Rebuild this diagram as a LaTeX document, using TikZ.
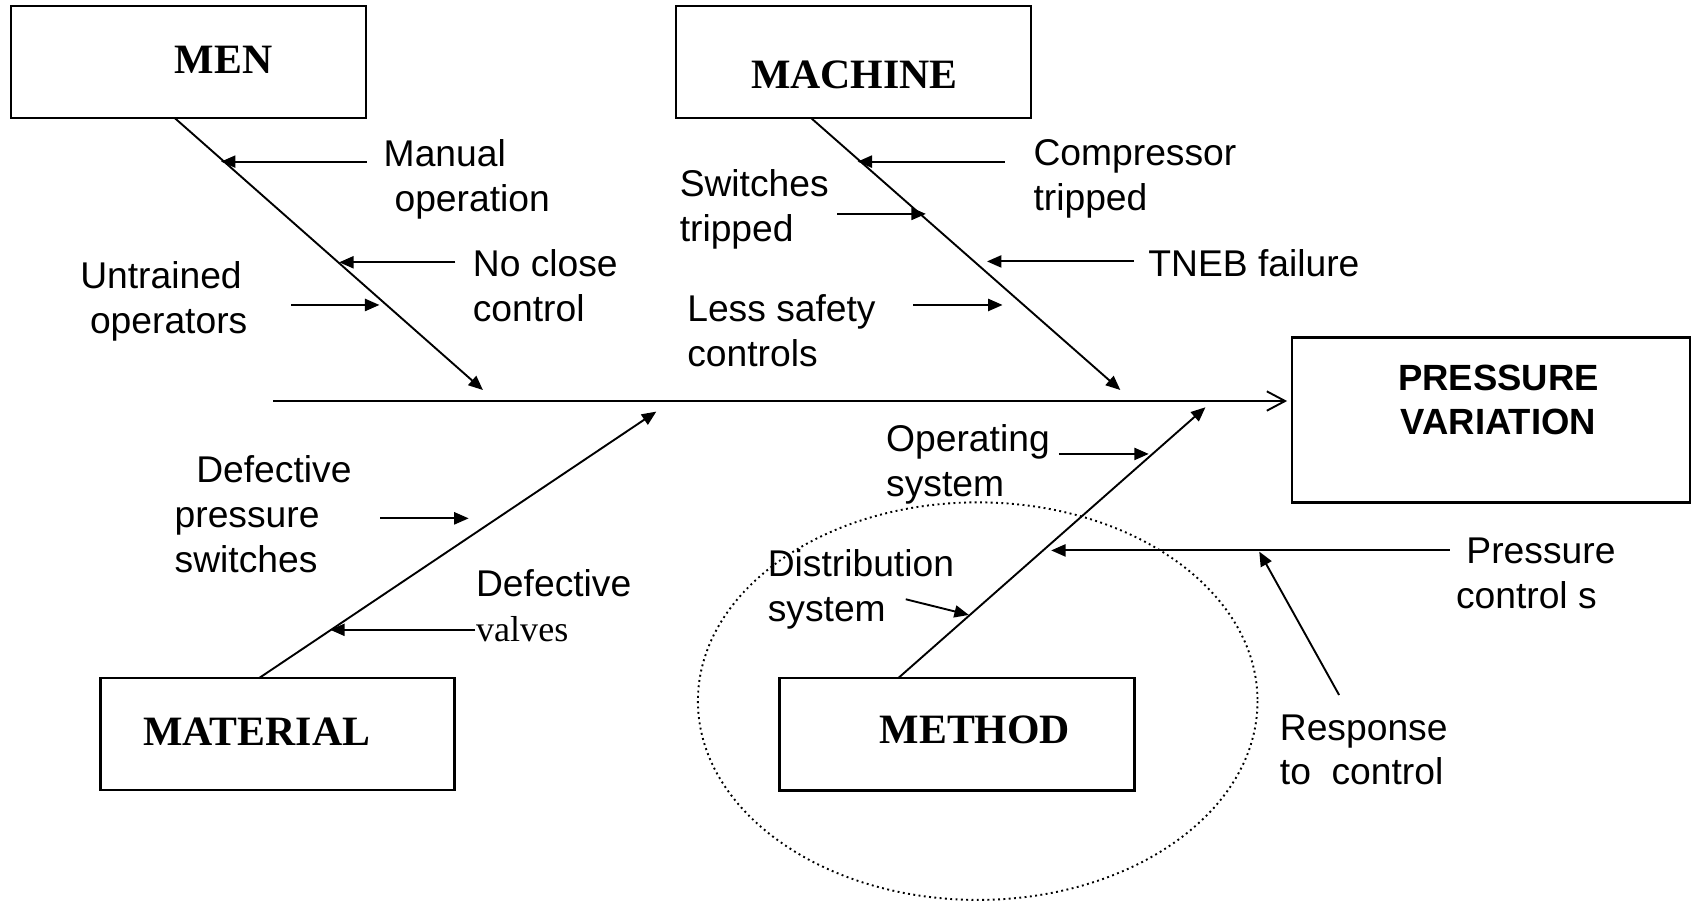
\documentclass[tikz,border=0pt]{standalone}
\usepackage{fontspec}
\newfontfamily\lblfont{Liberation Sans}
\newfontfamily\ttlfont{Liberation Serif}
\usepackage{tikz}
\usetikzlibrary{arrows.meta}
\tikzset{
    box/.style={draw,line width=0.6pt,inner sep=0pt},
    ttl/.style={font=\ttlfont\bfseries\fontsize{11}{13}\selectfont,inner sep=0pt,anchor=base west},
    lbl/.style={font=\lblfont\fontsize{9.8}{11.8}\selectfont,inner sep=0pt,align=left,anchor=base west},
    bone/.style={line width=0.5pt,-{Triangle[length=3.8pt,width=3.2pt]}},
    spine/.style={line width=0.5pt,-{Straight Barb[length=4.8pt,width=5.1pt]}},
}
\begin{document}
\begin{tikzpicture}[x=0.01cm,y=-0.01cm]
            \useasboundingbox (0,0) rectangle (1568,834);
            \node (men) at (174.6,57.5) [box,minimum width=3.284cm,minimum height=1.04cm] {};
            \node (machine) at (789.8,57.5) [box,minimum width=3.284cm,minimum height=1.04cm] {};
            \node (material) at (256.8,679.5) [box,minimum width=3.276cm,minimum height=1.034cm] {};
            \node (method) at (885.8,679.8) [box,minimum width=3.285cm,minimum height=1.04cm] {};
            \node (press) at (1380.2,388.8) [box,minimum width=3.683cm,minimum height=1.525cm] {};
            \node (menttl) at (161,67.9) [ttl] {MEN};
            \node (machttl) at (694.6,81.8) [ttl] {MACHINE};
            \node (matttl) at (132,689.6) [ttl] {MATERIAL};
            \node (methttl) at (813.6,688) [ttl] {METHOD};
            \node (pressttl) at (1387,402.6) [lbl,anchor=base,align=center,font=\lblfont\bfseries\fontsize{9.6}{11.7}\selectfont] {PRESSURE\\VARIATION};

            % spine and bones
            \coordinate (head0) at (253,371.2);
            \draw[spine,shorten >=1pt] (head0) -- (head0 -| press.west);
            \coordinate (menfoot) at (162,109.5);
            \coordinate (menhead) at (447,361);
            \coordinate (machfoot) at (751,109.5);
            \coordinate (machhead) at (1037,361);
            \coordinate (matfoot) at (239.6,627.8);
            \coordinate (mathead) at (607.5,381);
            \coordinate (methfoot) at (831.3,627.8);
            \coordinate (methhead) at (1115.8,377);
            \draw[bone] (menfoot) -- (menhead);
            \draw[bone] (machfoot) -- (machhead);
            \draw[bone] (matfoot) -- (mathead);
            \draw[bone] (methfoot) -- (methhead);

            % men
            \node (manual) at (354.5,195.9) [lbl] {Manual\\\hspace*{0.1cm}operation};
            \node (noclose) at (437,297.7) [lbl] {No close\\control};
            \node (untrained) at (73.6,308.5) [lbl] {Untrained\\\hspace*{0.09cm}operators};
            \coordinate (m1a) at (339.6,149.6); \coordinate (m1b) at (204.6,149.6);
            \coordinate (m2a) at (421.5,242.8); \coordinate (m2b) at (314,242.8);
            \coordinate (m3a) at (269.4,282.3); \coordinate (m3b) at (351.2,282.3);
            \draw[bone] (m1a) -- (m1b);
            \draw[bone] (m2a) -- (m2b);
            \draw[bone] (m3a) -- (m3b);

            % machine
            \node (compressor) at (956,194.4) [lbl] {Compressor\\tripped};
            \node (switches) at (628.5,223.7) [lbl] {Switches\\tripped};
            \node (tneb) at (1062.3,256.1) [lbl] {TNEB failure};
            \node (safety) at (635.5,339.4) [lbl] {Less safety\\controls};
            \coordinate (c1a) at (930,149.6); \coordinate (c1b) at (793.8,149.6);
            \coordinate (c2a) at (775,198); \coordinate (c2b) at (857,198);
            \coordinate (c3a) at (1049.7,242); \coordinate (c3b) at (913.6,242);
            \coordinate (c4a) at (845.4,282.3); \coordinate (c4b) at (928,282.3);
            \draw[bone] (c1a) -- (c1b);
            \draw[bone] (c2a) -- (c2b);
            \draw[bone] (c3a) -- (c3b);
            \draw[bone] (c4a) -- (c4b);

            % material
            \node (defswitch) at (161,530) [lbl] {\hspace*{0.2cm}Defective\\pressure\\switches};
            \node (defvalve) at (440,594) [lbl] {Defective\\{\ttlfont\fontsize{9.5}{11.8}\selectfont valves}};
            \coordinate (t1a) at (352,479.8); \coordinate (t1b) at (433.8,479.8);
            \coordinate (t2a) at (440,583) ; \coordinate (t2b) at (305.7,583);
            \draw[bone] (t1a) -- (t1b);
            \draw[bone] (t2a) -- (t2b);

            % method
            \draw[line width=0.5pt,dash pattern=on 0.5pt off 0.9pt] (905,649) ellipse (259 and 184);
            \node (operating) at (819.6,459.7) [lbl] {Operating\\system};
            \node (distrib) at (710,575.4) [lbl] {Distribution\\system};
            \node (pressctl) at (1347,563) [lbl] {\hspace*{0.097cm}Pressure\\control s};
            \node (response) at (1184,726.6) [lbl] {Response\\to\ \ control};
            \coordinate (d1a) at (980,420.2); \coordinate (d1b) at (1063.3,420.2);
            \coordinate (d2a) at (838.4,554.7); \coordinate (d2b) at (896.8,569.2);
            \coordinate (d3a) at (1342,509.5); \coordinate (d3b) at (973,509.5);
            \coordinate (d4a) at (1239.5,643.3); \coordinate (d4b) at (1165.6,510.6);
            \draw[bone] (d1a) -- (d1b);
            \draw[bone] (d2a) -- (d2b);
            \draw[bone] (d3a) -- (d3b);
            \draw[bone] (d4a) -- (d4b);
        \end{tikzpicture}
\end{document}
